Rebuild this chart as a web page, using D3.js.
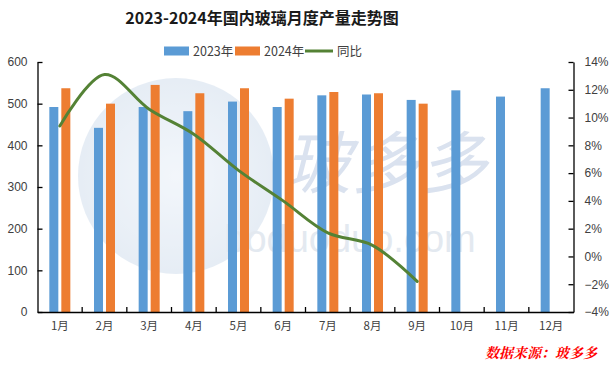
<!DOCTYPE html>
<html><head><meta charset="utf-8">
<script src="https://cdn.jsdelivr.net/npm/d3@7"></script>
<style>body{margin:0;background:#fff}svg{display:block}</style>
</head><body><svg id="c" width="616" height="368"></svg>
<script>
const months = ["1月","2月","3月","4月","5月","6月","7月","8月","9月","10月","11月","12月"];
const v2023 = [492,442,492,482,505,492,520,522,509,532,517,537];
const v2024 = [537,500,545,525,537,512,528,525,500];
const yoy = [9.4,13.1,10.6,8.8,6.2,4.0,1.7,0.8,-1.8];
const leftTicks = [0,100,200,300,400,500,600];
const rightTicks = [-4,-2,0,2,4,6,8,10,12,14];

const svg = d3.select("#c");
const m = {l:37.5, r:573.5, t:62, b:312};
const font = "'Liberation Sans', Arial, 'Noto Sans CJK SC', sans-serif";

const x = d3.scaleBand().domain(months).range([m.l, m.r]);
const y = d3.scaleLinear().domain([0,600]).range([m.b, m.t]);
const y2 = d3.scaleLinear().domain([-4,14]).range([m.b, m.t]);

// watermark
const wm = svg.append("g").attr("opacity",0.45);
const grad = svg.append("defs").append("radialGradient").attr("id","wg");
grad.append("stop").attr("offset","0%").attr("stop-color","#e4edf7");
grad.append("stop").attr("offset","100%").attr("stop-color","#c9d8ea");
wm.append("circle").attr("cx",176).attr("cy",176).attr("r",98).attr("fill","url(#wg)");
wm.append("text").attr("x",385).attr("y",188).attr("text-anchor","middle")
  .attr("font-family","'Noto Sans CJK SC',sans-serif").attr("font-size",68).attr("font-style","italic")
  .attr("fill","#aebfdc").text("玻多多");
wm.append("text").attr("x",350).attr("y",252).attr("text-anchor","middle")
  .attr("font-family",font).attr("font-size",38).attr("fill","#c3cfe0").text("boduoduo.com");

// bars
const bw = 9;
svg.append("g").selectAll("rect").data(v2023).join("rect")
  .attr("x",(d,i)=>x(months[i]) + x.bandwidth()/2 - bw - 1.5)
  .attr("y",d=>y(d)).attr("width",bw).attr("height",d=>y(0)-y(d)).attr("fill","#5b9bd5");
svg.append("g").selectAll("rect").data(v2024).join("rect")
  .attr("x",(d,i)=>x(months[i]) + x.bandwidth()/2 + 1.5)
  .attr("y",d=>y(d)).attr("width",bw).attr("height",d=>y(0)-y(d)).attr("fill","#ed7d31");

// line
const line = d3.line().x((d,i)=>x(months[i])+x.bandwidth()/2).y(d=>y2(d)).curve(d3.curveCatmullRom.alpha(0.5));
svg.append("path").datum(yoy).attr("d",line).attr("fill","none").attr("stroke","#548235").attr("stroke-width",3).attr("stroke-linecap","round");

// axes
const axL = svg.append("g").attr("transform",`translate(${m.l},0)`)
  .call(d3.axisLeft(y).tickValues(leftTicks).tickSizeInner(-5).tickSizeOuter(0).tickPadding(10));
const axR = svg.append("g").attr("transform",`translate(${m.r},0)`)
  .call(d3.axisRight(y2).tickValues(rightTicks).tickSizeInner(-5).tickSizeOuter(0).tickPadding(11).tickFormat(d=>(d<0?"−"+(-d):d)+"%"));
const axB = svg.append("g").attr("transform",`translate(0,${m.b})`)
  .call(d3.axisBottom(x).tickSize(0).tickPadding(10));
// boundary ticks on x axis
svg.append("g").selectAll("line").data(months.slice(1)).join("line")
  .attr("x1",d=>x(d)).attr("x2",d=>x(d)).attr("y1",m.b).attr("y2",m.b-5)
  .attr("stroke","#000").attr("stroke-width",1.3);
[axL,axR,axB].forEach(a=>{
  a.selectAll("path").attr("stroke","#000").attr("stroke-width",1.3);
  a.selectAll("line").attr("stroke","#000").attr("stroke-width",1.3);
  a.selectAll("text").attr("font-family",font).attr("font-size",12).attr("fill","#404040");
});
axB.selectAll("text").attr("font-family","'Noto Sans CJK SC',sans-serif").attr("font-size",11.5);

// title
svg.append("text").attr("x",262).attr("y",24).attr("text-anchor","middle")
  .attr("font-family","'Noto Sans CJK SC',sans-serif").attr("font-weight","bold").attr("font-size",16)
  .attr("fill","#1a1a1a").text("2023-2024年国内玻璃月度产量走势图");

// legend
const lg = svg.append("g").attr("font-family","'Noto Sans CJK SC',sans-serif").attr("font-size",12.5).attr("fill","#404040");
const items = [{t:"2023年",c:"#5b9bd5",x:164,type:"r"},{t:"2024年",c:"#ed7d31",x:235,type:"r"},{t:"同比",c:"#548235",x:305,type:"l"}];
items.forEach(it=>{
  if(it.type==="r") lg.append("rect").attr("x",it.x).attr("y",46.5).attr("width",25).attr("height",9).attr("fill",it.c);
  else lg.append("line").attr("x1",it.x).attr("x2",it.x+28).attr("y1",51).attr("y2",51).attr("stroke",it.c).attr("stroke-width",3);
  lg.append("text").attr("x",it.x+(it.type==="r"?29:32)).attr("y",55.5).text(it.t);
});

// source
svg.append("text").attr("x",597).attr("y",358).attr("text-anchor","end")
  .attr("font-family","'Noto Serif CJK SC','Noto Sans CJK SC',serif").attr("font-weight","bold").attr("font-style","italic")
  .attr("font-size",14).attr("fill","#ff0000").text("数据来源：玻多多");
</script></body></html>
